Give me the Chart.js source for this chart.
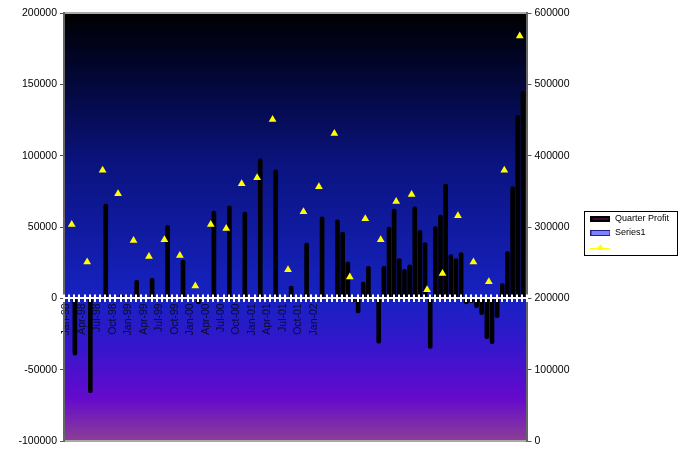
<!DOCTYPE html>
<html>
<head>
<meta charset="utf-8">
<script src="https://cdn.jsdelivr.net/npm/chart.js@4.4.0/dist/chart.umd.min.js"></script>
<style>
html, body { margin: 0; padding: 0; background: #fff; }
#wrap { width: 683px; height: 467px; }
</style>
</head>
<body>
<div id="wrap"><canvas id="profitChart" width="683" height="467"></canvas></div>
<script>
const monthNames = ["Jan","Feb","Mar","Apr","May","Jun","Jul","Aug","Sep","Oct","Nov","Dec"];
const labelYears = ["98","99","00","01"];
const totalSlots = 90;

// monthly slots, one row per year (98 .. 05)
const quarterProfit = [
    null, null, -39800, null, null, -66200, null, null, 66000, null, null, 2500,
    null, null, 12600, null, null, 14000, null, null, 51200, null, null, 26900,
    null, null, -4000, null, null, 61100, null, null, 64800, null, null, 60400,
    null, null, 97800, null, null, 90100, null, null, 8600, null, null, 38800,
    null, null, 57100, null, null, 55000, 46500, 25500, -2500, -10300, 11400, 22500,
    null, -31400, 22500, 50000, 62500, 27900, 20400, 23400, 64100, 47700, 39100, -35100,
    50300, 58300, 80000, 30700, 27900, 32100, -4000, -3000, -6500, -11400, -28300, -31800,
    -13500, 10300, 32800, 78400, 128300, 145100
];
const series1 = [];
const trendValues = [
    null, 303500, null, null, 251100, null, null, 379400, null, null, 346700, null,
    null, 281000, null, null, 258600, null, null, 282000, null, null, 260000, null,
    null, 217400, null, null, 303500, null, null, 297900, null, null, 360700, null,
    null, 369100, null, null, 450700, null, null, 239900, null, null, 321400, null,
    null, 356500, null, null, 431000, null, null, 230000, null, null, 311500, null,
    null, 282000, null, null, 335800, null, null, 345700, null, null, 212200, null,
    null, 234700, null, null, 315700, null, null, 251100, null, null, 223400, null,
    null, 379400, null, null, 567700, null
];

let labels = [];
labelYears.forEach(y => monthNames.forEach(m => labels.push(m + "-" + y)));
labels.push("Jan-02");
while (labels.length < totalSlots) labels.push("");

const fontFamily = "'Liberation Sans', Arial, sans-serif";

function makeIcon(kind){
    let c = document.createElement("canvas");
    c.width = 20; c.height = 8;
    let g = c.getContext("2d");
    if (kind === "bar") {
        g.fillStyle = "#000";
        g.fillRect(0, 1, 20, 6);
        g.strokeStyle = "#7a1660";
        g.lineWidth = 1;
        g.beginPath(); g.moveTo(2, 4); g.lineTo(18, 4); g.stroke();
    } else if (kind === "blue") {
        g.fillStyle = "#8080ff";
        g.fillRect(0, 1, 20, 6);
        g.strokeStyle = "#20208a";
        g.lineWidth = 1;
        g.strokeRect(0.5, 1.5, 19, 5);
    } else {
        g.strokeStyle = "#ffff00";
        g.lineWidth = 1;
        g.beginPath(); g.moveTo(0, 5.5); g.lineTo(20, 5.5); g.stroke();
        g.fillStyle = "#ffff00";
        g.beginPath(); g.moveTo(10, 1); g.lineTo(14, 7); g.lineTo(6, 7); g.closePath(); g.fill();
    }
    return c;
}
const icons = [makeIcon("bar"), makeIcon("blue"), makeIcon("line")];

const plotDecor = {
    id: "plotDecor",
    beforeDraw(chart) {
        const {ctx, chartArea: a} = chart;
        let grad = ctx.createLinearGradient(0, a.top, 0, a.bottom);
        grad.addColorStop(0, "#000000");
        grad.addColorStop(0.12, "#02052a");
        grad.addColorStop(0.35, "#0a137e");
        grad.addColorStop(0.667, "#1722c2");
        grad.addColorStop(0.78, "#3516cc");
        grad.addColorStop(0.9, "#650acc");
        grad.addColorStop(1, "#8c3f96");
        ctx.save();
        ctx.fillStyle = grad;
        ctx.fillRect(a.left, a.top, a.right - a.left, a.bottom - a.top);
        ctx.strokeStyle = "#a8a8a8";
        ctx.lineWidth = 2;
        ctx.beginPath();
        ctx.moveTo(a.left, a.top); ctx.lineTo(a.right, a.top);
        ctx.moveTo(a.left, a.bottom); ctx.lineTo(a.right, a.bottom);
        ctx.stroke();
        ctx.restore();
    },
    afterDatasetsDraw(chart) {
        const {ctx, chartArea: a} = chart;
        const xs = chart.scales.x;
        const y0 = Math.round(chart.scales.y.getPixelForValue(0));
        ctx.save();
        ctx.strokeStyle = "#ffffff";
        ctx.lineWidth = 2;
        ctx.beginPath();
        ctx.moveTo(a.left, y0); ctx.lineTo(a.right, y0);
        ctx.stroke();
        const n = chart.data.labels.length;
        ctx.beginPath();
        for (let i = 0; i <= n; i++) {
            const x = Math.round(xs.left + i * xs.width / n);
            ctx.moveTo(x, y0 - 3.5); ctx.lineTo(x, y0 + 4);
        }
        ctx.stroke();
        ctx.restore();
    },
    afterDraw(chart) {
        const boxes = chart.legend.legendHitBoxes;
        if (!boxes || !boxes.length) return;
        let l = Math.min(...boxes.map(b => b.left)) - 6;
        let t = boxes[0].top - 4;
        let r = Math.max(...boxes.map(b => b.left + b.width)) + 8;
        let b = boxes[boxes.length - 1].top + boxes[boxes.length - 1].height + 3;
        const ctx = chart.ctx;
        ctx.save();
        ctx.strokeStyle = "#000";
        ctx.lineWidth = 1;
        ctx.strokeRect(Math.round(l) + 0.5, Math.round(t) + 0.5, Math.round(r - l), Math.round(b - t));
        ctx.restore();
    }
};

let ctx = document.getElementById("profitChart").getContext("2d");
let profitChart = new Chart(ctx, {
    type: "bar",
    data: {
        labels: labels,
        datasets: [{
            label: "Quarter Profit",
            data: quarterProfit,
            backgroundColor: "#000",
            borderColor: "#000",
            borderWidth: 0,
            borderRadius: 2,
            borderSkipped: false,
            barThickness: 4,
            yAxisID: "y",
            order: 2
        }, {
            label: "Series1",
            data: series1,
            backgroundColor: "#8080ff",
            barThickness: 4,
            yAxisID: "y",
            order: 3
        }, {
            type: "line",
            label: "",
            data: trendValues,
            yAxisID: "y1",
            showLine: false,
            pointStyle: "triangle",
            pointRadius: 4.5,
            pointBackgroundColor: "#ffff00",
            pointBorderColor: "#ffff00",
            pointBorderWidth: 0,
            order: 1
        }]
    },
    options: {
        responsive: false,
        animation: false,
        layout: { padding: { left: 0, right: 4, top: 13, bottom: 26 } },
        plugins: {
            tooltip: { enabled: false },
            legend: {
                position: "right",
                title: { display: true, text: " ", padding: 0, font: { size: 10 } },
                labels: {
                    font: { family: fontFamily, size: 9 },
                    color: "#000",
                    usePointStyle: true,
                    pointStyleWidth: 20,
                    padding: 5,
                    generateLabels: (chart) => chart.data.datasets.map((ds, i) => ({
                        text: ds.label,
                        pointStyle: icons[i],
                        fillStyle: "#000",
                        strokeStyle: "#000",
                        fontColor: "#000",
                        lineWidth: 0,
                        hidden: false,
                        datasetIndex: i
                    }))
                }
            }
        },
        scales: {
            x: {
                position: { y: 0 },
                grid: { display: true, drawOnChartArea: false, drawTicks: false },
                border: { display: false },
                ticks: {
                    autoSkip: false,
                    minRotation: 90,
                    maxRotation: 90,
                    padding: 5,
                    color: "#0a0a30",
                    font: { family: fontFamily, size: 10.5 },
                    callback: function(value, index) {
                        return index % 3 === 0 ? this.getLabelForValue(value) : "";
                    }
                }
            },
            y: {
                position: "left",
                min: -100000,
                max: 200000,
                afterFit: (scale) => { scale.width = 64; },
                grid: { drawOnChartArea: false, tickLength: 4, color: "#555" },
                border: { color: "#666", width: 2 },
                ticks: {
                    stepSize: 50000,
                    color: "#000",
                    padding: 3,
                    font: { family: fontFamily, size: 10.5 },
                    callback: (v) => String(v)
                }
            },
            y1: {
                position: "right",
                min: 0,
                max: 600000,
                afterFit: (scale) => { scale.width = 58; },
                grid: { drawOnChartArea: false, tickLength: 4, color: "#555" },
                border: { color: "#666", width: 2 },
                ticks: {
                    stepSize: 100000,
                    color: "#000",
                    padding: 3,
                    font: { family: fontFamily, size: 10.5 },
                    callback: (v) => String(v)
                }
            }
        }
    },
    plugins: [plotDecor]
});
</script>
</body>
</html>
